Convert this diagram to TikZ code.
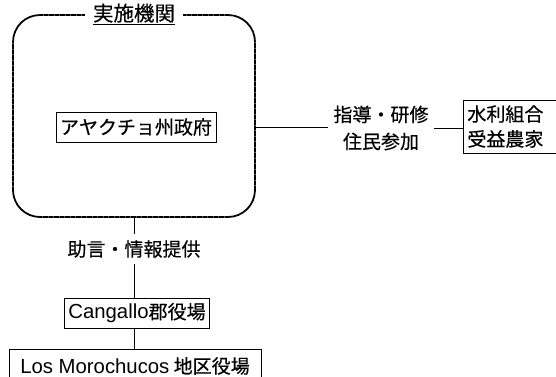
\documentclass[tikz,border=0pt]{standalone}
\usepackage{fontspec}
\setmainfont{Noto Sans CJK JP}[FakeBold=0.4]
\newfontfamily\latinfont{Liberation Sans}[Scale=1.07]
\usetikzlibrary{positioning}

\begin{document}
\begin{tikzpicture}[x=1pt, y=-1pt,
    jtext/.style={font=\fontsize{19}{27}\selectfont, inner sep=0pt},
    orgbox/.style={jtext, draw, line width=0.8pt, inner xsep=4pt, minimum height=30pt},
    link/.style={line width=0.8pt},
    frame/.style={draw, line width=1.8pt, dash pattern=on 0.8pt off 0.3pt,
      rounded corners=27pt, minimum width=242pt, minimum height=202pt}]
    \clip (0, 0) rectangle (556, 376);

    % implementing body
    \node [frame] (org) at (134, 116) {};
    \node [jtext, font=\fontsize{20.5}{27}\selectfont, fill=white, inner xsep=8pt, inner ysep=3pt]
      (title) at (org.north) {\underline{実施機関}};
    \node [orgbox] (pref) at (136, 127) {アヤクチョ州政府};

    % beneficiaries
    \node [jtext, align=center, inner xsep=5pt] (guide) at (381, 128) {指導・研修\\住民参加};
    \node [orgbox, anchor=west, text width=88pt, align=left, minimum height=53pt,
      font=\fontsize{19}{25}\selectfont] (users) at (463, 126.5) {水利組合\\受益農家};
    \draw [link] (pref.east -| org.east) -- (pref.east -| guide.west);
    \draw [link] (guide.east) -- (guide.east -| users.west);

    % local offices
    \node [jtext, minimum height=30pt] (advice) at (134, 249) {助言・情報提供};
    \node [orgbox] (cangallo) at (137, 313) {{\latinfont Cangallo}郡役場};
    \node [orgbox, minimum width=252pt, minimum height=34pt] (los) at (135, 366)
      {{\latinfont Los Morochucos} 地区役場};
    \draw [link] (org.south) -- (advice.north);
    \draw [link] (advice.south) -- (advice.south |- cangallo.north);
    \draw [link] (cangallo.south -| advice.south) -- (advice.south |- los.north);
\end{tikzpicture}
\end{document}
